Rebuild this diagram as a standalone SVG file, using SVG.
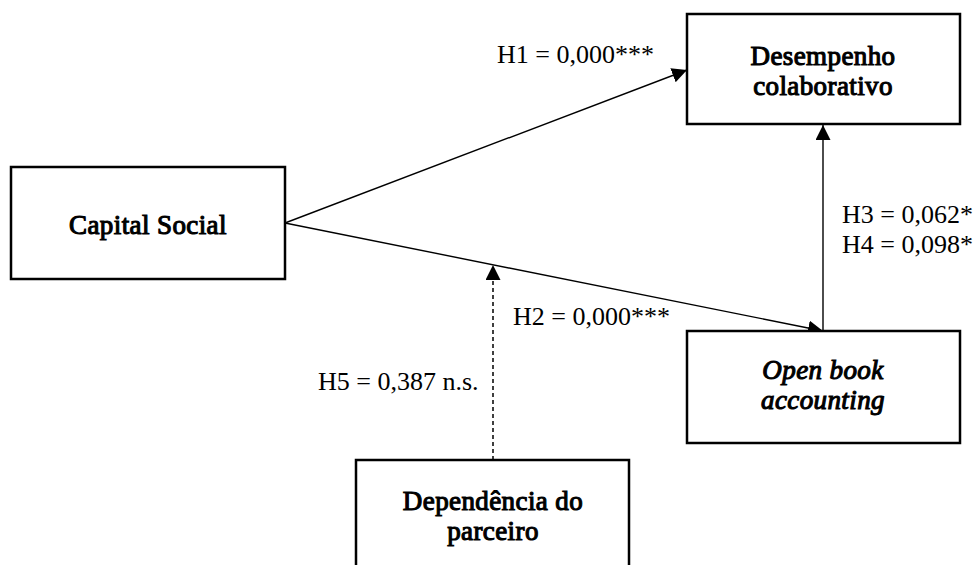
<svg xmlns="http://www.w3.org/2000/svg" width="979" height="565" viewBox="0 0 979 565">
  <style>
    .box { fill: #ffffff; stroke: #000000; stroke-width: 2.5; }
    /* heavy serif titles: regular face thickened with a thin outline */
    .title { font-family: "Liberation Serif", "Times New Roman", serif; font-size: 27px; letter-spacing: 0.4px; fill: #000000; stroke: #000000; stroke-width: 1.1; text-anchor: middle; }
    .italic { font-style: italic; }
    .label { font-family: "Liberation Serif", "Times New Roman", serif; font-size: 26px; fill: #000000; }
    .edge { fill: none; stroke: #000000; stroke-width: 1.4; }
    .dashed { stroke-width: 1.5; stroke-dasharray: 4 3; }
  </style>
  <defs>
    <marker id="arrow" markerUnits="userSpaceOnUse" markerWidth="16" markerHeight="16" viewBox="0 0 16 16" refX="15" refY="7.5" orient="auto">
      <path d="M0,0 L15,7.5 L0,15 z" fill="#000000"/>
    </marker>
  </defs>

  <!-- connectors -->
  <g id="connectors">
    <line class="edge" x1="285" y1="223" x2="687" y2="70" marker-end="url(#arrow)"/>
    <line class="edge" x1="285" y1="223" x2="823" y2="331" marker-end="url(#arrow)"/>
    <line class="edge" x1="823" y1="331" x2="823" y2="125" marker-end="url(#arrow)"/>
    <line class="edge dashed" x1="493" y1="460" x2="493" y2="265" marker-end="url(#arrow)"/>
  </g>

  <!-- path coefficients -->
  <g id="labels">
    <text class="label" x="497" y="63">H1 = 0,000***</text>
    <text class="label" x="513" y="325">H2 = 0,000***</text>
    <text class="label" x="842" y="223">H3 = 0,062*</text>
    <text class="label" x="842" y="253">H4 = 0,098*</text>
    <text class="label" x="318" y="390">H5 = 0,387 n.s.</text>
  </g>

  <g id="capital-social">
    <rect class="box" x="11" y="167" width="274" height="112"/>
    <text class="title" x="148" y="234">Capital Social</text>
  </g>

  <g id="desempenho-colaborativo">
    <rect class="box" x="687" y="14" width="273" height="110"/>
    <text class="title" x="823" y="65">Desempenho</text>
    <text class="title" x="823" y="95">colaborativo</text>
  </g>

  <g id="open-book-accounting">
    <rect class="box" x="687" y="331" width="273" height="112"/>
    <text class="title italic" x="823" y="379">Open book</text>
    <text class="title italic" x="823" y="409">accounting</text>
  </g>

  <g id="dependencia-parceiro">
    <rect class="box" x="356" y="460" width="273" height="115"/>
    <text class="title" x="493" y="510">Dependência do</text>
    <text class="title" x="493" y="540">parceiro</text>
  </g>
</svg>
